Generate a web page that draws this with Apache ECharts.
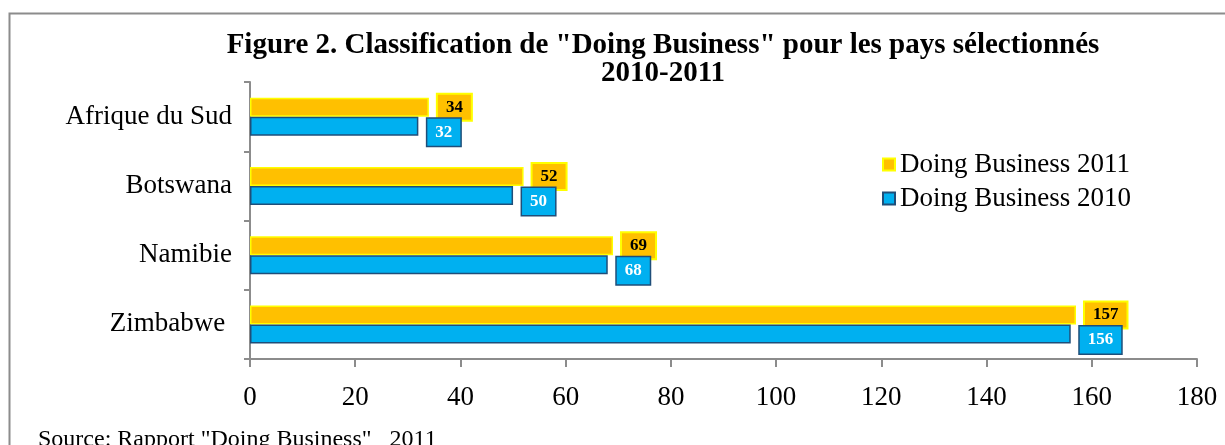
<!DOCTYPE html>
<html lang="fr">
<head>
    <meta charset="utf-8">
    <title>Doing Business 2010-2011</title>
    <script src="https://cdn.jsdelivr.net/npm/echarts@6/dist/echarts.min.js"></script>
    <style type="text/css">
        html, body {
            width: 100%;
            height: 100%;
            margin: 0px;
            padding: 0px;
            background: #fff;
        }
        #main {
            width: 1225px;
            height: 445px;
        }
    </style>
</head>
<body>
<div id="main"></div>
<script>
    // données (de bas en haut)
    var pays = ['Zimbabwe ', 'Namibie', 'Botswana', 'Afrique du Sud'];
    var db2010 = [156, 68, 50, 32];
    var db2011 = [157, 69, 52, 34];
    var xTicks = [0, 20, 40, 60, 80, 100, 120, 140, 160, 180];

    var serif = 'Liberation Serif';
    var myChart = echarts.init(document.getElementById('main'));

    myChart.setOption({
        animation: false,
        backgroundColor: '#ffffff',
        title: [
            {
                text: 'Figure 2. Classification de "Doing Business" pour les pays sélectionnés\n2010-2011',
                left: 658,
                top: 27,
                textAlign: 'center',
                textStyle: {
                    fontFamily: serif,
                    fontWeight: 'bold',
                    fontSize: 29,
                    lineHeight: 28,
                    color: '#000'
                }
            },
            {
                text: 'Source: Rapport "Doing Business"   2011',
                left: 33,
                top: 423,
                textStyle: {
                    fontFamily: serif,
                    fontWeight: 'normal',
                    fontSize: 24,
                    color: '#000'
                }
            }
        ],
        graphic: [{
            type: 'rect',
            shape: { x: 9.5, y: 13.5, width: 1240, height: 460 },
            style: { fill: 'none', stroke: '#8c8c8c', lineWidth: 2 },
            silent: true
        }],
        legend: {
            data: ['Doing Business 2011', 'Doing Business 2010'],
            orient: 'vertical',
            left: 877,
            top: 146,
            itemWidth: 12,
            itemHeight: 12,
            itemGap: 7,
            icon: 'rect',
            textStyle: {
                fontFamily: serif,
                fontSize: 27,
                lineHeight: 27,
                color: '#000',
                padding: [0, 0, 0, 0]
            }
        },
        grid: {
            left: 250,
            right: 28,
            top: 82,
            bottom: 86
        },
        xAxis: {
            type: 'value',
            min: 0,
            max: 180,
            interval: 20,
            splitLine: { show: false },
            axisLine: { show: true, lineStyle: { color: '#8c8c8c', width: 2 } },
            axisTick: { show: true, length: 8, lineStyle: { color: '#8c8c8c', width: 2 } },
            axisLabel: {
                margin: 25,
                fontFamily: serif,
                fontSize: 27,
                color: '#000',
                formatter: function (v) {
                    return xTicks.indexOf(v) >= 0 ? String(v) : '';
                }
            }
        },
        yAxis: {
            type: 'category',
            data: pays,
            axisLine: { show: true, lineStyle: { color: '#8c8c8c', width: 2 } },
            axisTick: { show: true, length: 6, lineStyle: { color: '#8c8c8c', width: 2 } },
            axisLabel: {
                margin: 18,
                fontFamily: serif,
                fontSize: 27,
                color: '#000'
            }
        },
        series: [
            {
                name: 'Doing Business 2011',
                type: 'bar',
                data: db2011,
                barWidth: 19,
                barGap: '0%',
                itemStyle: {
                    color: '#ffc000',
                    borderColor: '#ffff00',
                    borderWidth: 1.5
                },
                label: {
                    show: true,
                    position: 'right',
                    distance: 9,
                    fontFamily: serif,
                    fontWeight: 'bold',
                    fontSize: 17,
                    lineHeight: 17,
                    color: '#000',
                    backgroundColor: '#ffc000',
                    borderColor: '#ffff00',
                    borderWidth: 2,
                    padding: [4, 8, 4, 8]
                }
            },
            {
                name: 'Doing Business 2010',
                type: 'bar',
                data: db2010,
                barWidth: 19,
                barGap: '0%',
                itemStyle: {
                    color: '#00b0f0',
                    borderColor: '#1f4e79',
                    borderWidth: 1.5
                },
                label: {
                    show: true,
                    position: 'right',
                    distance: 9,
                    offset: [0, 6],
                    fontFamily: serif,
                    fontWeight: 'bold',
                    fontSize: 17,
                    lineHeight: 17,
                    color: '#fff',
                    backgroundColor: '#00b0f0',
                    borderColor: '#1f4e79',
                    borderWidth: 1.5,
                    padding: [5, 8, 5, 8]
                }
            }
        ]
    });
</script>
</body>
</html>
